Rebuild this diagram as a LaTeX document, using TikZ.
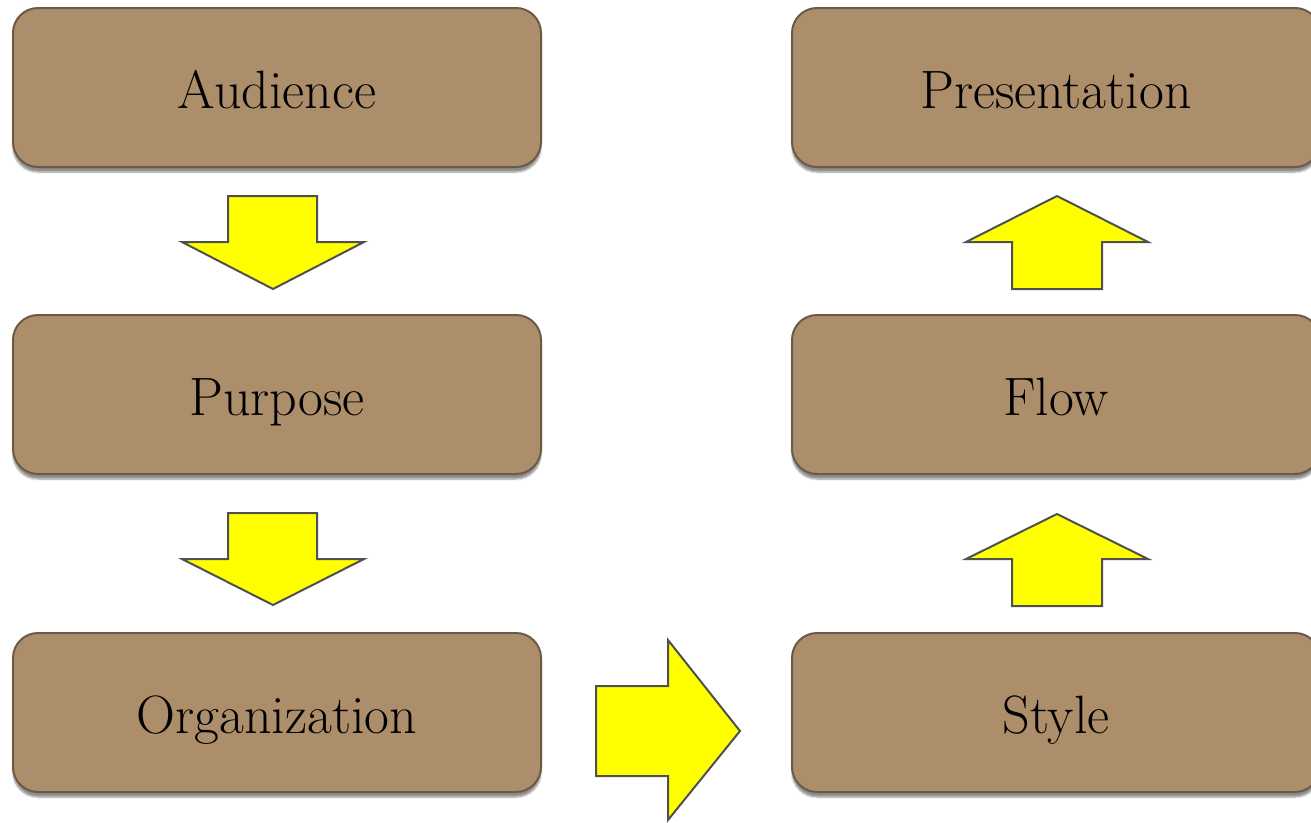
\documentclass[tikz,border=0pt]{standalone}
\usetikzlibrary{shadows.blur}
\definecolor{boxfill}{HTML}{AD8E6A}
\definecolor{boxline}{HTML}{6B5A45}
\definecolor{arrfill}{HTML}{FFFF00}
\definecolor{arrline}{HTML}{505050}
\tikzset{
  stepbox/.style={draw=boxline, line width=2pt, fill=boxfill, rounded corners=25pt,
    minimum width=528pt, minimum height=159pt, inner sep=0pt,
    text height=50pt, text depth=9pt,
    font=\fontsize{54}{64}\selectfont,
    blur shadow={shadow xshift=0pt, shadow yshift=-5pt, shadow blur steps=6, shadow opacity=45}},
  blockarrow/.style={draw=arrline, line width=2pt, fill=arrfill, line join=miter}
}
\begin{document}
\begin{tikzpicture}[x=1pt,y=-1pt]
\useasboundingbox (0,0) rectangle (1311,822);
\node[stepbox] (aud) at (277,87.5) {Audience};
\node[stepbox] (pur) at (277,394.5) {Purpose};
\node[stepbox] (org) at (277,712.5) {Organization};
\node[stepbox] (sty) at (1056,712.5) {Style};
\node[stepbox] (flo) at (1056,394.5) {Flow};
\node[stepbox] (pre) at (1056,87.5) {Presentation};
% down arrows
\draw[blockarrow] (228,196) -- (317,196) -- (317,242) -- (364,242) -- (273,289) -- (182,242) -- (228,242) -- cycle;
\draw[blockarrow] (228,513) -- (317,513) -- (317,559) -- (364,559) -- (273,605) -- (182,559) -- (228,559) -- cycle;
% right arrow
\draw[blockarrow] (596,686) -- (668,686) -- (668,640) -- (740,731) -- (668,820) -- (668,776) -- (596,776) -- cycle;
% up arrows
\draw[blockarrow] (1012,606) -- (1102,606) -- (1102,559) -- (1148,559) -- (1057,514) -- (966,559) -- (1012,559) -- cycle;
\draw[blockarrow] (1012,289) -- (1102,289) -- (1102,242) -- (1148,242) -- (1057,196) -- (966,242) -- (1012,242) -- cycle;
\end{tikzpicture}
\end{document}
